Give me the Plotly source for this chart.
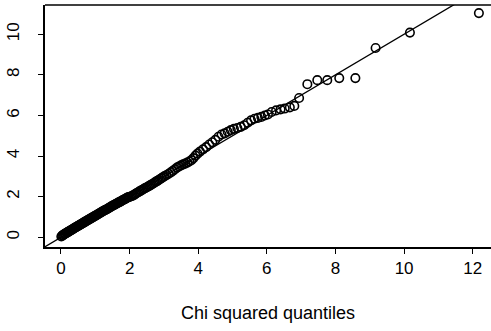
import plotly.graph_objects as go

# Chi-squared quantiles (x) and ordered squared distances (y)
chi_quantiles = [
    0.01, 0.035, 0.06, 0.085, 0.11, 0.135, 0.16, 0.185, 0.21, 0.235,
    0.26, 0.285, 0.31, 0.335, 0.36, 0.385, 0.41, 0.435, 0.46, 0.485,
    0.51, 0.535, 0.56, 0.585, 0.61, 0.635, 0.66, 0.685, 0.71, 0.735,
    0.76, 0.785, 0.81, 0.835, 0.86, 0.885, 0.91, 0.935, 0.96, 0.985,
    1.01, 1.04, 1.07, 1.10, 1.13, 1.16, 1.19, 1.22, 1.25, 1.28,
    1.31, 1.34, 1.37, 1.40, 1.43, 1.46, 1.49, 1.52, 1.55, 1.58,
    1.61, 1.64, 1.67, 1.70, 1.73, 1.76, 1.79, 1.82, 1.85, 1.88,
    1.91, 1.94, 1.97,
    2.01, 2.05, 2.09, 2.13, 2.17, 2.21, 2.25, 2.29, 2.33, 2.37,
    2.41, 2.45, 2.49, 2.53, 2.57, 2.61, 2.65, 2.69, 2.73, 2.77,
    2.81, 2.85, 2.89, 2.93, 2.97,
    3.02, 3.08, 3.14, 3.20, 3.26, 3.32, 3.38, 3.44, 3.50, 3.56,
    3.62, 3.68, 3.74, 3.80, 3.86, 3.92, 3.98,
    4.05, 4.14, 4.23, 4.32, 4.41, 4.50, 4.59, 4.68, 4.77, 4.86, 4.95,
    5.04, 5.14, 5.24, 5.34, 5.44, 5.54, 5.64, 5.74, 5.84, 5.94,
    6.03, 6.14, 6.27, 6.40, 6.52, 6.67, 6.80, 6.94,
    7.18, 7.47, 7.76, 8.11, 8.58, 9.17, 10.17, 12.18,
]
ordered_distances = [
    0.04, 0.08, 0.11, 0.14, 0.17, 0.19, 0.22, 0.24, 0.27, 0.29,
    0.32, 0.34, 0.37, 0.39, 0.42, 0.45, 0.47, 0.50, 0.52, 0.55,
    0.57, 0.60, 0.62, 0.65, 0.67, 0.70, 0.72, 0.75, 0.77, 0.80,
    0.82, 0.85, 0.87, 0.90, 0.92, 0.95, 0.97, 1.00, 1.02, 1.05,
    1.07, 1.10, 1.13, 1.16, 1.19, 1.22, 1.25, 1.28, 1.31, 1.34,
    1.36, 1.39, 1.42, 1.45, 1.48, 1.51, 1.54, 1.57, 1.59, 1.62,
    1.65, 1.68, 1.71, 1.73, 1.76, 1.79, 1.82, 1.85, 1.87, 1.90,
    1.93, 1.96, 1.98,
    2.00, 2.02, 2.05, 2.09, 2.14, 2.18, 2.22, 2.26, 2.30, 2.34,
    2.38, 2.42, 2.45, 2.49, 2.53, 2.57, 2.61, 2.65, 2.70, 2.74,
    2.78, 2.82, 2.87, 2.91, 2.96,
    3.01, 3.07, 3.13, 3.20, 3.27, 3.35, 3.43, 3.49, 3.54, 3.59,
    3.63, 3.68, 3.73, 3.80, 3.90, 4.02, 4.12,
    4.22, 4.33, 4.44, 4.57, 4.68, 4.80, 4.95, 5.06, 5.12, 5.20, 5.28,
    5.34, 5.38, 5.44, 5.52, 5.64, 5.76, 5.84, 5.88, 5.93, 6.00,
    6.05, 6.17, 6.25, 6.30, 6.34, 6.40, 6.47, 6.86,
    7.54, 7.74, 7.74, 7.84, 7.84, 9.32, 10.08, 11.04,
]
x_ticks = [0, 2, 4, 6, 8, 10, 12]
y_ticks = [0, 2, 4, 6, 8, 10]
x_title = "Chi squared quantiles"
line_intercept = 0.0
line_slope = 1.0

x_range = [-0.466, 12.533]
y_range = [-0.478, 11.44]

font_family = "Liberation Sans, Arial, sans-serif"

fig = go.Figure()
fig.add_trace(go.Scatter(
    x=chi_quantiles, y=ordered_distances, mode="markers",
    marker=dict(symbol="circle-open", size=8.5, color="black", line=dict(width=1.6, color="black")),
    showlegend=False, hoverinfo="x+y", cliponaxis=False,
))
lx = [x_range[0] - 1, x_range[1] + 1]
fig.add_trace(go.Scatter(
    x=lx, y=[line_intercept + line_slope * v for v in lx], mode="lines",
    line=dict(color="black", width=1.3), showlegend=False, hoverinfo="skip",
))

axis_common = dict(
    showgrid=False, zeroline=False, showline=True, linecolor="black", linewidth=1.6,
    ticks="outside", ticklen=5, tickwidth=1.4, tickcolor="black",
    tickfont=dict(family=font_family, size=17, color="black"),
)
fig.update_layout(
    width=491, height=331,
    margin=dict(l=45, r=0, t=5, b=84),
    paper_bgcolor="white", plot_bgcolor="white",
    xaxis=dict(range=x_range, tickvals=x_ticks, ticktext=[str(v) for v in x_ticks], **axis_common),
    yaxis=dict(range=y_range, tickvals=y_ticks, ticktext=[str(v) for v in y_ticks], tickangle=-90,
               ticklabelstandoff=12, **axis_common),
    shapes=[dict(type="line", xref="paper", yref="paper", x0=0, x1=1, y0=1, y1=1,
                 line=dict(color="black", width=1.6))],
    annotations=[dict(text=x_title, xref="paper", yref="paper", x=0.5, y=0, yshift=-66,
                      xanchor="center", yanchor="middle", showarrow=False,
                      font=dict(family=font_family, size=18, color="black"))],
)
fig.write_html("out.html", config={"displayModeBar": False},
               post_script="document.body.style.margin='0';document.body.style.overflow='hidden';")
